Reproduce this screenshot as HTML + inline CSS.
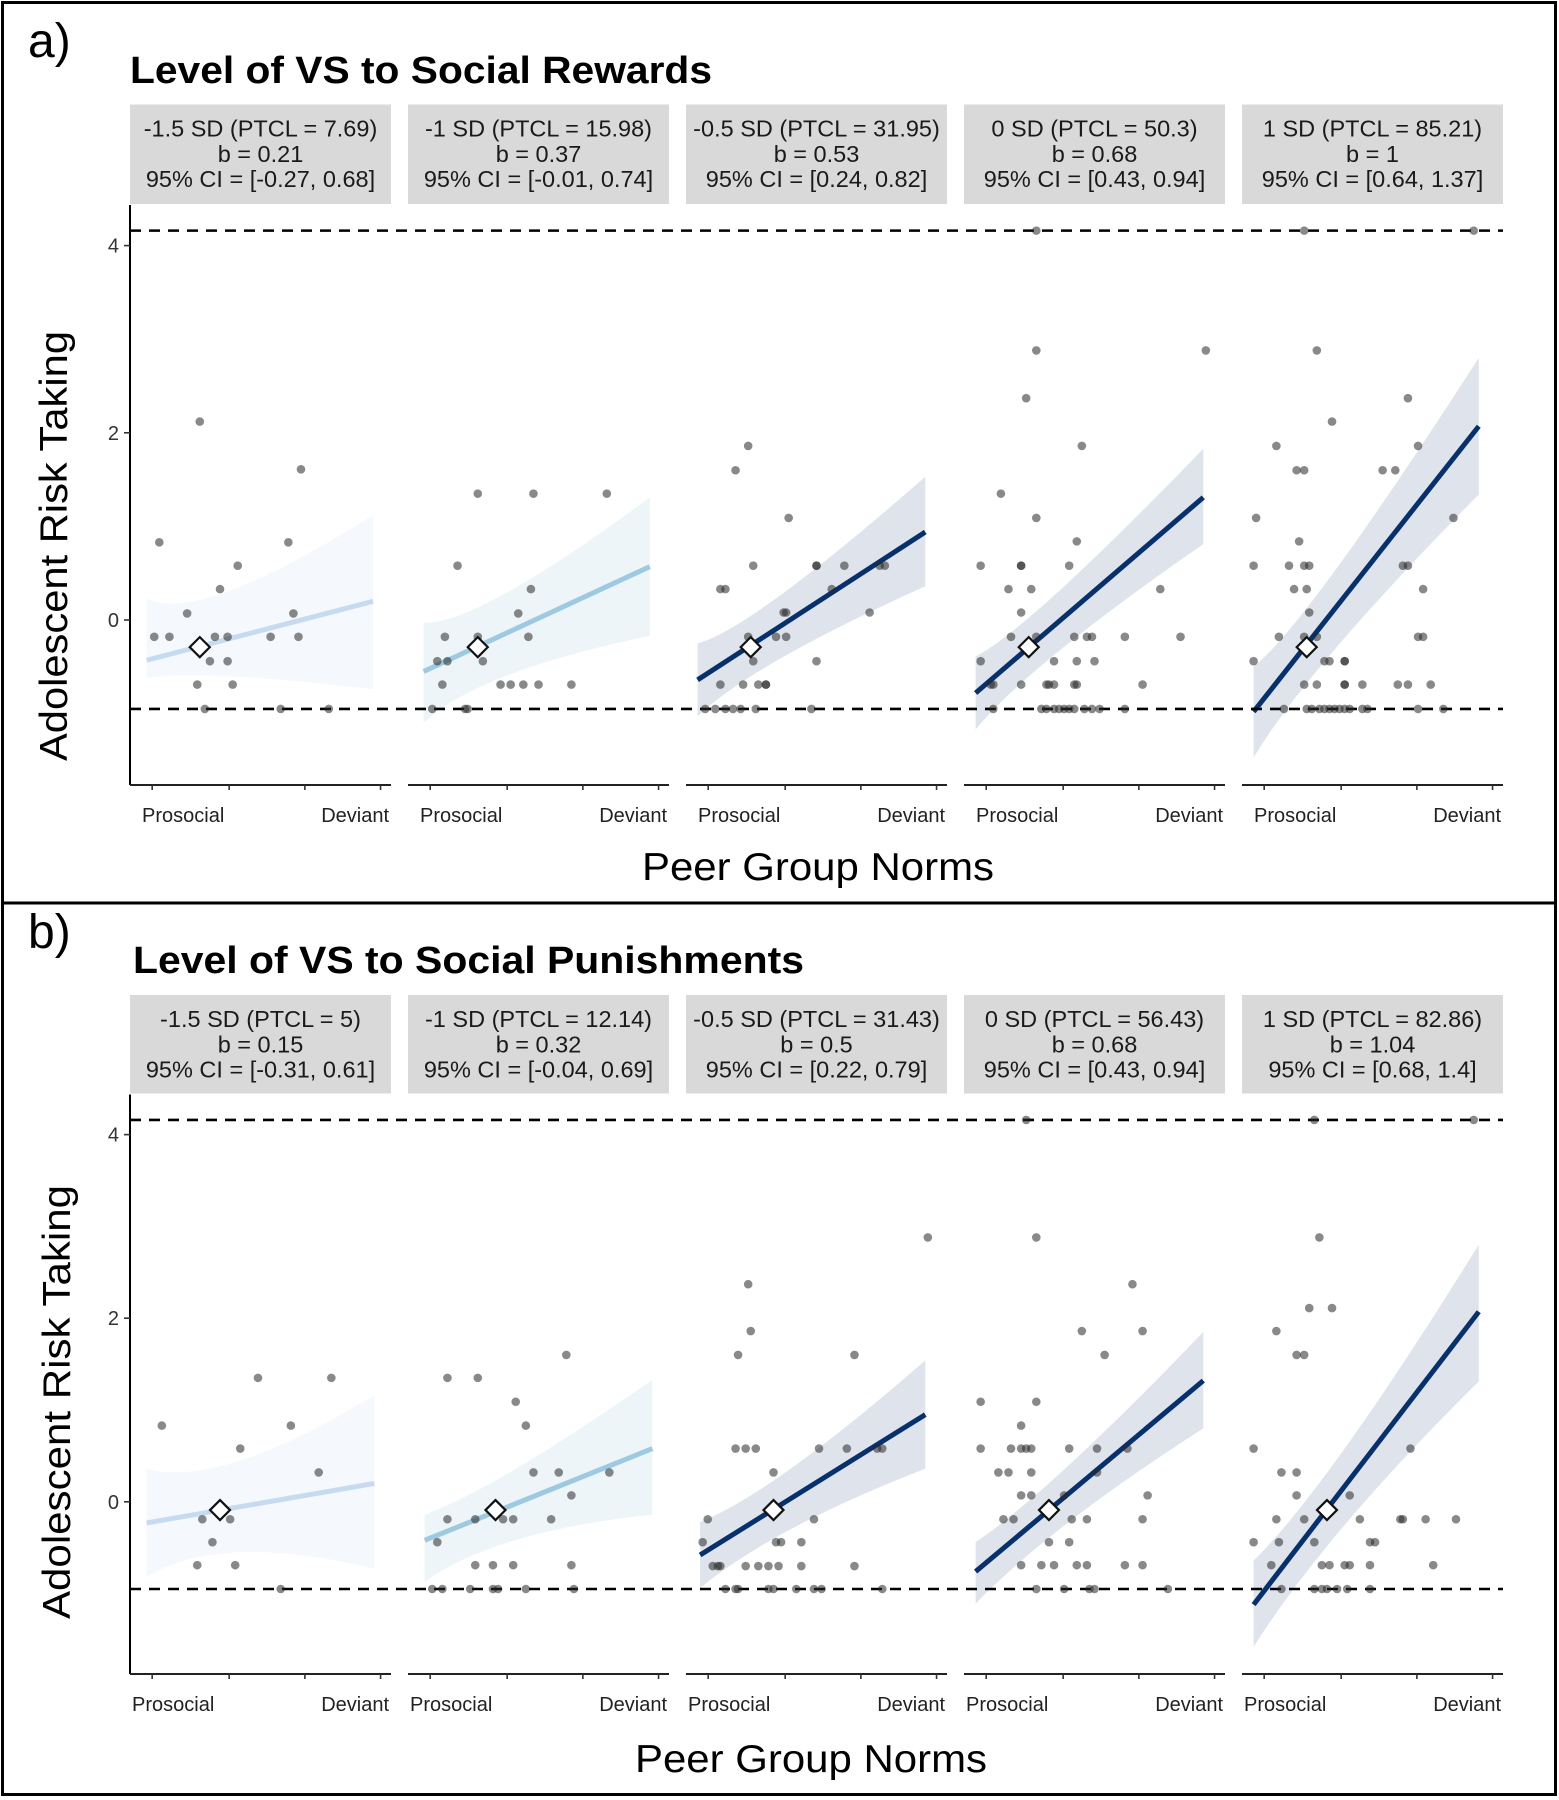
<!DOCTYPE html>
<html><head><meta charset="utf-8"><style>
html,body{margin:0;padding:0;background:#fff;}
svg{display:block;font-family:"Liberation Sans",Arial,sans-serif;}
</style></head><body>
<svg id="fig" width="1559" height="1800" viewBox="0 0 1559 1800"></svg>
<script>
// ---------- data ----------
const stripLabelsA = [
 ["-1.5 SD (PTCL = 7.69)","b = 0.21","95% CI = [-0.27, 0.68]"],
 ["-1 SD (PTCL = 15.98)","b = 0.37","95% CI = [-0.01, 0.74]"],
 ["-0.5 SD (PTCL = 31.95)","b = 0.53","95% CI = [0.24, 0.82]"],
 ["0 SD (PTCL = 50.3)","b = 0.68","95% CI = [0.43, 0.94]"],
 ["1 SD (PTCL = 85.21)","b = 1","95% CI = [0.64, 1.37]"]];
const stripLabelsB = [
 ["-1.5 SD (PTCL = 5)","b = 0.15","95% CI = [-0.31, 0.61]"],
 ["-1 SD (PTCL = 12.14)","b = 0.32","95% CI = [-0.04, 0.69]"],
 ["-0.5 SD (PTCL = 31.43)","b = 0.5","95% CI = [0.22, 0.79]"],
 ["0 SD (PTCL = 56.43)","b = 0.68","95% CI = [0.43, 0.94]"],
 ["1 SD (PTCL = 82.86)","b = 1.04","95% CI = [0.68, 1.4]"]];
const yTicks = [0, 2, 4];
const refLines = [4.16, -0.95];
const xTickFracs = [0.085, 0.38, 0.67, 0.96];
// points: [x (0-1 peer norm), y]
const ptsA1 = [[.10,.83],[.26,2.12],[.08,-.18],[.14,-.18],[.21,.07],[.34,.33],[.41,.58],[.32,-.18],[.37,-.18],[.30,-.44],[.37,-.44],[.25,-.69],[.39,-.69],[.28,-.95],[.54,-.18],[.61,.83],[.63,.07],[.65,-.18],[.66,1.61],[.58,-.95],[.77,-.95]];
const ptsA2 = [[.26,1.35],[.48,1.35],[.77,1.35],[.18,.58],[.47,.33],[.42,.07],[.13,-.18],[.26,-.18],[.46,-.18],[.10,-.44],[.14,-.44],[.28,-.44],[.12,-.69],[.35,-.69],[.39,-.69],[.44,-.69],[.50,-.69],[.63,-.69],[.08,-.95],[.21,-.95],[.22,-.95]];
const ptsA3 = [[.23,1.86],[.18,1.60],[.39,1.09],[.25,.58],[.50,.58],[.50,.58],[.61,.58],[.75,.58],[.77,.58],[.12,.33],[.14,.33],[.56,.33],[.37,.08],[.38,.08],[.71,.08],[.23,-.18],[.34,-.18],[.38,-.18],[.25,-.44],[.50,-.44],[.12,-.69],[.21,-.69],[.27,-.69],[.30,-.69],[.30,-.69],[.06,-.95],[.10,-.95],[.14,-.95],[.17,-.95],[.20,-.95],[.26,-.95],[.48,-.95]];
const ptsA4 = [[.27,4.16],[.27,2.88],[.94,2.88],[.23,2.37],[.45,1.86],[.13,1.35],[.27,1.09],[.43,.84],[.05,.58],[.21,.58],[.21,.58],[.40,.58],[.16,.33],[.25,.33],[.76,.33],[.21,.08],[.17,-.18],[.27,-.18],[.42,-.18],[.47,-.18],[.49,-.18],[.62,-.18],[.84,-.18],[.05,-.44],[.34,-.44],[.43,-.44],[.50,-.44],[.09,-.69],[.10,-.69],[.21,-.69],[.31,-.69],[.32,-.69],[.34,-.69],[.42,-.69],[.43,-.69],[.69,-.69],[.10,-.95],[.29,-.95],[.31,-.95],[.34,-.95],[.36,-.95],[.38,-.95],[.40,-.95],[.42,-.95],[.46,-.95],[.49,-.95],[.52,-.95],[.62,-.95]];
const ptsA5 = [[.23,4.16],[.90,4.16],[.28,2.88],[.64,2.37],[.34,2.12],[.12,1.86],[.68,1.86],[.20,1.60],[.23,1.60],[.54,1.60],[.59,1.60],[.04,1.09],[.82,1.09],[.21,.84],[.03,.58],[.17,.58],[.23,.58],[.25,.58],[.62,.58],[.64,.58],[.19,.33],[.24,.33],[.70,.33],[.25,.08],[.13,-.18],[.23,-.18],[.28,-.18],[.68,-.18],[.70,-.18],[.03,-.44],[.31,-.44],[.33,-.44],[.39,-.44],[.39,-.44],[.23,-.69],[.28,-.69],[.39,-.69],[.39,-.69],[.46,-.69],[.60,-.69],[.64,-.69],[.73,-.69],[.15,-.95],[.24,-.95],[.26,-.95],[.29,-.95],[.31,-.95],[.33,-.95],[.35,-.95],[.37,-.95],[.39,-.95],[.41,-.95],[.46,-.95],[.48,-.95],[.68,-.95],[.78,-.95]];
const ptsB1 = [[.11,.83],[.49,1.35],[.78,1.35],[.42,.58],[.62,.83],[.73,.32],[.27,-.19],[.38,-.19],[.31,-.44],[.25,-.69],[.40,-.69],[.58,-.95]];
const ptsB2 = [[.14,1.35],[.26,1.35],[.61,1.60],[.41,1.09],[.45,.83],[.48,.32],[.58,.32],[.78,.32],[.63,.07],[.14,-.19],[.25,-.19],[.36,-.19],[.40,-.19],[.55,-.19],[.10,-.44],[.25,-.69],[.32,-.69],[.40,-.69],[.63,-.69],[.08,-.95],[.12,-.95],[.23,-.95],[.32,-.95],[.34,-.95],[.45,-.95],[.64,-.95]];
const ptsB3 = [[.94,2.88],[.23,2.37],[.24,1.86],[.19,1.60],[.65,1.60],[.18,.58],[.22,.58],[.26,.58],[.51,.58],[.62,.58],[.74,.58],[.76,.58],[.33,.32],[.07,-.19],[.49,-.19],[.05,-.44],[.34,-.44],[.36,-.44],[.44,-.44],[.09,-.70],[.11,-.70],[.12,-.70],[.22,-.70],[.27,-.70],[.31,-.70],[.35,-.70],[.44,-.70],[.65,-.70],[.14,-.95],[.18,-.95],[.19,-.95],[.31,-.95],[.33,-.95],[.42,-.95],[.49,-.95],[.52,-.95],[.76,-.95]];
const ptsB4 = [[.23,4.16],[.27,2.88],[.65,2.37],[.45,1.86],[.69,1.86],[.54,1.60],[.05,1.09],[.27,1.09],[.21,.83],[.05,.58],[.17,.58],[.21,.58],[.23,.58],[.25,.58],[.40,.58],[.51,.58],[.63,.58],[.12,.32],[.16,.32],[.25,.32],[.51,.32],[.21,.07],[.25,.07],[.38,.07],[.71,.07],[.14,-.19],[.18,-.19],[.41,-.19],[.47,-.19],[.69,-.19],[.32,-.44],[.40,-.44],[.21,-.69],[.29,-.69],[.34,-.69],[.43,-.69],[.47,-.69],[.62,-.69],[.69,-.69],[.27,-.95],[.38,-.95],[.48,-.95],[.50,-.95],[.79,-.95]];
const ptsB5 = [[.27,4.16],[.90,4.16],[.29,2.88],[.25,2.11],[.34,2.11],[.12,1.86],[.20,1.60],[.23,1.60],[.03,.58],[.65,.58],[.14,.32],[.20,.32],[.20,.07],[.41,.07],[.12,-.19],[.23,-.19],[.45,-.19],[.61,-.19],[.62,-.19],[.71,-.19],[.83,-.19],[.03,-.44],[.13,-.44],[.27,-.44],[.49,-.44],[.51,-.44],[.10,-.69],[.30,-.69],[.33,-.69],[.39,-.69],[.41,-.69],[.49,-.69],[.74,-.69],[.14,-.95],[.27,-.95],[.30,-.95],[.32,-.95],[.36,-.95],[.40,-.95],[.49,-.95]];
// fitted lines: [x0, y0, x1, y1]
const fitA = [[.05,-.43,.945,.20],[.046,-.55,.94,.57],[.03,-.64,.93,.94],[.03,-.78,.93,1.31],[.03,-.98,.92,2.07]];
const fitB = [[.05,-.23,.95,.20],[.05,-.42,.95,.58],[.04,-.58,.93,.95],[.03,-.76,.93,1.32],[.03,-1.12,.92,2.07]];
// confidence band: [left lo, left hi, mid lo, mid hi, right lo, right hi]
const bandA = [[-.62,.23,-.52,-.05,-.74,1.12],[-1.1,-.03,-.55,-.05,-.17,1.31],[-1.03,-.25,-.48,-.10,.36,1.53],[-1.17,-.39,-.48,-.10,.81,1.83],[-1.47,-.50,-.52,-.05,1.34,2.80]];
const bandB = [[-.82,.36,-.32,.14,-.73,1.16],[-.87,-.14,-.32,.14,-.14,1.33],[-.94,-.22,-.28,.10,.36,1.54],[-1.11,-.44,-.28,.10,.80,1.85],[-1.58,-.64,-.32,.14,1.31,2.80]];
// mean marker: [x, y]
const meanA = [[.26,-.29],[.26,-.29],[.24,-.29],[.24,-.29],[.24,-.29]];
const meanB = [[.34,-.09],[.33,-.09],[.33,-.09],[.32,-.09],[.32,-.09]];
const lineColors = ["#c6dbef","#9ecae1","#08306b","#08306b","#08306b"];
const bandColors = ["#f5f8fc","#eef5f9","#dfe4ec","#dfe4ec","#dfe4ec"];

// ---------- drawing ----------
const NS = "http://www.w3.org/2000/svg";
const svg = document.getElementById("fig");
function el(tag, attrs, parent){
  const e = document.createElementNS(NS, tag);
  for (const k in attrs) e.setAttribute(k, attrs[k]);
  (parent||svg).appendChild(e);
  return e;
}
const panelX0 = 130, panelPitch = 278, panelW = 261;
function xScale(p, v){ return panelX0 + p*panelPitch + 4 + v*(panelW-8); }

function drawChart(cfg){
  const g = el("g", {});
  
  
  const yS = v => cfg.zeroY - v*cfg.unit;
  const lt = el("text", {x:28, y:cfg.letterY, "font-size":48, fill:"#000"}, g);
  lt.textContent = cfg.letter;
  
  
  const tt = el("text", {x:cfg.titleX, y:cfg.titleY, "font-size":38, "font-weight":"bold", fill:"#000", textLength:cfg.titleLen, lengthAdjust:"spacingAndGlyphs"}, g);
  tt.textContent = cfg.title;
  
  
  for (let p=0;p<5;p++){
    const x = panelX0 + p*panelPitch;
    const r = el("rect", {x:x, y:cfg.stripTop, width:panelW, height:cfg.stripBot-cfg.stripTop, fill:"#d9d9d9"}, g);
    
    
    cfg.strips[p].forEach((s,i)=>{
      const t = el("text", {x:x+panelW/2, y:cfg.stripTop+32+i*25.3, "font-size":23.5, fill:"#1a1a1a", "text-anchor":"middle"}, g);
      t.textContent = s;
      
      
    });
  }
  for (let p=0;p<5;p++){
    const f = cfg.fit[p], b = cfg.band[p], m = cfg.mean[p];
    const xl = xScale(p,f[0]), xr = xScale(p,f[2]), xm = xScale(p,m[0]);
    const d = `M${xl},${yS(b[1])} Q${xm},${yS(b[3])} ${xr},${yS(b[5])} L${xr},${yS(b[4])} Q${xm},${yS(b[2])} ${xl},${yS(b[0])} Z`;
    const band = el("path", {d:d, fill:bandColors[p]}, g);
    
    
    const ln = el("line", {x1:xl, y1:yS(f[1]), x2:xr, y2:yS(f[3]), stroke:lineColors[p], "stroke-width":5}, g);
    
    
  }
  refLines.forEach(v=>{
    const l = el("line", {x1:panelX0, x2:panelX0+4*panelPitch+panelW, y1:yS(v), y2:yS(v), stroke:"#000", "stroke-width":2.6, "stroke-dasharray":"11 8"}, g);
    
    
  });
  for (let p=0;p<5;p++){
    cfg.pts[p].forEach(pt=>{
      const c = el("circle", {cx:xScale(p,pt[0]), cy:yS(pt[1]), r:4.3, fill:"rgba(40,40,40,0.55)"}, g);
      
      
    });
    const m = cfg.mean[p];
    const cx = xScale(p,m[0]), cy = yS(m[1]), s = 10;
    const dm = el("path", {d:`M${cx},${cy-s} L${cx+s},${cy} L${cx},${cy+s} L${cx-s},${cy} Z`, fill:"#fff", stroke:"#111", "stroke-width":2.2}, g);
    
    
  }
  const ya = el("line", {x1:panelX0, x2:panelX0, y1:cfg.stripBot+1, y2:cfg.axisY, stroke:"#000", "stroke-width":2}, g);
  
  
  yTicks.forEach(v=>{
    const tk = el("line", {x1:panelX0-6, x2:panelX0, y1:yS(v), y2:yS(v), stroke:"#333", "stroke-width":1.6}, g);
    
    
    const tl = el("text", {x:panelX0-11, y:yS(v)+7, "font-size":20, fill:"#333", "text-anchor":"end"}, g);
    tl.textContent = v;
    
    
  });
  const yt = el("text", {x:0, y:0, "font-size":39, fill:"#000", "text-anchor":"middle", textLength:cfg.yTitleLen, lengthAdjust:"spacingAndGlyphs", transform:`translate(${cfg.yTitleX},${cfg.yTitleY}) rotate(-90)`}, g);
  yt.textContent = "Adolescent Risk Taking";
  
  
  for (let p=0;p<5;p++){
    const x = panelX0 + p*panelPitch;
    const xa = el("line", {x1:x, x2:x+panelW, y1:cfg.axisY, y2:cfg.axisY, stroke:"#222", "stroke-width":2}, g);
    
    
    xTickFracs.forEach(fr=>{
      const tk = el("line", {x1:x+fr*panelW, x2:x+fr*panelW, y1:cfg.axisY, y2:cfg.axisY+5, stroke:"#333", "stroke-width":1.6}, g);
      
      
    });
    const l1 = el("text", {x:x+cfg.proOff, y:cfg.axisY+37, "font-size":20, fill:"#222"}, g);
    l1.textContent = "Prosocial";
    
    
    const l2 = el("text", {x:x+panelW-2, y:cfg.axisY+37, "font-size":20, fill:"#222", "text-anchor":"end"}, g);
    l2.textContent = "Deviant";
    
    
  }
  const xt = el("text", {x:cfg.xTitleX, y:cfg.xTitleY, "font-size":39, fill:"#000", "text-anchor":"middle", textLength:352, lengthAdjust:"spacingAndGlyphs"}, g);
  xt.textContent = "Peer Group Norms";
  
  
}

drawChart({name:"chart-social-rewards", letter:"a)", letterY:57, title:"Level of VS to Social Rewards", titleX:130, titleY:83, titleLen:582,
  strips:stripLabelsA, stripTop:104.5, stripBot:204, zeroY:620, unit:93.6, axisY:785,
  pts:[ptsA1,ptsA2,ptsA3,ptsA4,ptsA5], fit:fitA, band:bandA, mean:meanA,
  yTitleX:67, yTitleY:546, yTitleLen:430, xTitleX:818, xTitleY:880, proOff:12});
drawChart({name:"chart-social-punishments", letter:"b)", letterY:948, title:"Level of VS to Social Punishments", titleX:133, titleY:973, titleLen:671,
  strips:stripLabelsB, stripTop:995, stripBot:1093.5, zeroY:1501.8, unit:91.8, axisY:1674,
  pts:[ptsB1,ptsB2,ptsB3,ptsB4,ptsB5], fit:fitB, band:bandB, mean:meanB,
  yTitleX:70, yTitleY:1402, yTitleLen:434, xTitleX:811, xTitleY:1772, proOff:2});

const bd = el("rect", {x:2.5, y:2.5, width:1553, height:1792, fill:"none", stroke:"#000", "stroke-width":3});


const dv = el("line", {x1:2, x2:1556, y1:903, y2:903, stroke:"#000", "stroke-width":3});


</script>
</body></html>
